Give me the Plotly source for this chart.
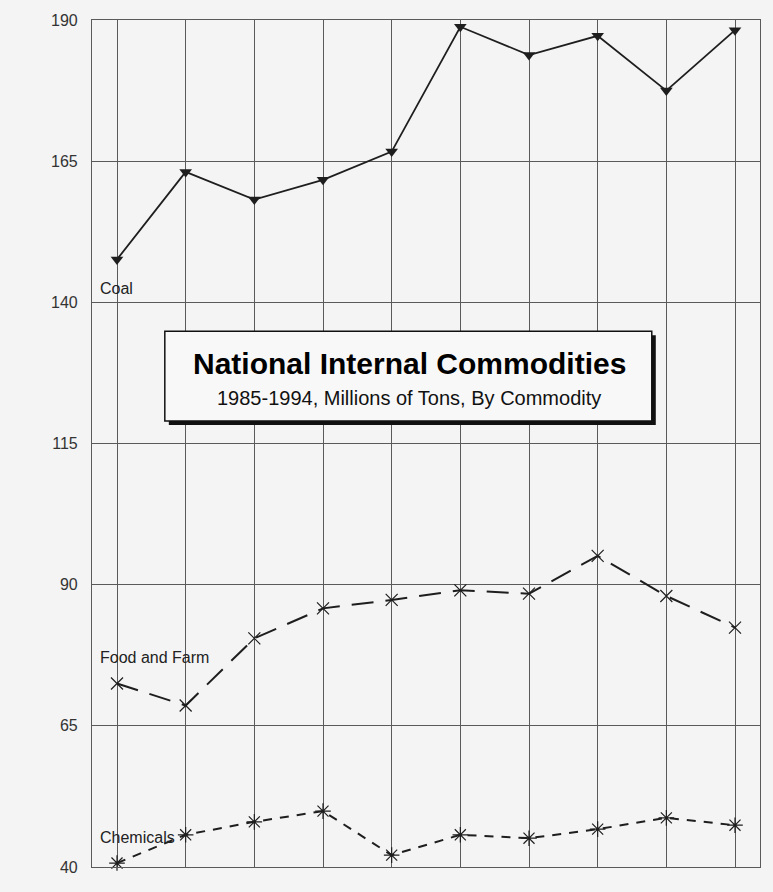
import plotly.graph_objects as go

# ── Data (millions of tons) ────────────────────────────────────────────────
years = [1985, 1986, 1987, 1988, 1989, 1990, 1991, 1992, 1993, 1994]
coal = [147.6, 163.1, 158.2, 161.7, 166.7, 188.8, 183.8, 187.2, 177.5, 188.2]
food_farm = [72.5, 68.6, 80.5, 85.8, 87.3, 89.0, 88.4, 95.1, 88.0, 82.4]
chemicals = [40.7, 45.7, 48.0, 49.9, 42.1, 45.7, 45.1, 46.7, 48.7, 47.4]
y_ticks = [40, 65, 90, 115, 140, 165, 190]

FONT = "Liberation Sans, Arial, sans-serif"
INK = "#1e1e1e"
GRID = "#5a5a5a"
BG = "#f4f4f4"

fig = go.Figure()

fig.add_trace(go.Scatter(
    x=years, y=coal, mode="lines+markers", name="Coal",
    line=dict(color=INK, width=1.8),
    marker=dict(symbol="triangle-down", size=11, color=INK),
    cliponaxis=False,
))
fig.add_trace(go.Scatter(
    x=years, y=food_farm, mode="lines+markers", name="Food and Farm",
    line=dict(color=INK, width=2, dash="22px,12px"),
    marker=dict(symbol="x-thin-open", size=12, line=dict(color=INK, width=1.2)),
    cliponaxis=False,
))
fig.add_trace(go.Scatter(
    x=years, y=chemicals, mode="lines+markers", name="Chemicals",
    line=dict(color=INK, width=2, dash="9px,8px"),
    marker=dict(symbol="asterisk-open", size=13, line=dict(color=INK, width=1.2)),
    cliponaxis=False,
))

# series labels
for text, y in [("Coal", 142.5), ("Food and Farm", 77.1), ("Chemicals", 45.3)]:
    fig.add_annotation(
        x=years[0] - 0.27, y=y, xref="x", yref="y", text=text,
        showarrow=False, xanchor="left", yanchor="middle",
        font=dict(family=FONT, size=16, color="#222222"),
    )

# title box with drop shadow
bx0, bx1, by0, by1 = 0.109, 0.838, 0.5265, 0.6325
fig.add_shape(type="rect", xref="paper", yref="paper",
              x0=bx0 + 0.006, x1=bx1 + 0.006, y0=by0 - 0.0047, y1=by1 - 0.0047,
              fillcolor="#111111", line=dict(width=0), layer="above")
fig.add_shape(type="rect", xref="paper", yref="paper",
              x0=bx0, x1=bx1, y0=by0, y1=by1,
              fillcolor="#f8f8f8", line=dict(color="#111111", width=1.5), layer="above")
fig.add_annotation(
    x=0.4746, y=0.5948, xref="paper", yref="paper", showarrow=False,
    text="<b>National Internal Commodities</b>",
    font=dict(family=FONT, size=30, color="#000000"),
)
fig.add_annotation(
    x=0.4746, y=0.5536, xref="paper", yref="paper", showarrow=False,
    text="1985-1994, Millions of Tons, By Commodity",
    font=dict(family=FONT, size=20, color="#111111"),
)

fig.update_layout(
    width=773, height=892,
    margin=dict(l=92, r=13, t=18, b=25),
    paper_bgcolor=BG, plot_bgcolor=BG,
    showlegend=False,
    font=dict(family=FONT, color="#333333"),
    xaxis=dict(
        range=[years[0] - 0.364, years[-1] + 0.364],
        tickvals=years, showticklabels=False, ticks="",
        showgrid=True, gridcolor=GRID, gridwidth=1,
        showline=True, linecolor=GRID, linewidth=1.2, mirror=True,
        zeroline=False,
    ),
    yaxis=dict(
        range=[40, 190], tickvals=y_ticks, ticks="",
        ticklabelstandoff=10,
        tickfont=dict(family=FONT, size=16, color="#333333"),
        showgrid=True, gridcolor=GRID, gridwidth=1,
        showline=True, linecolor=GRID, linewidth=1.2, mirror=True,
        zeroline=False,
    ),
)

fig.write_html(
    "out.html",
    config={"displayModeBar": False},
    post_script="document.body.style.margin='0';document.body.style.background='%s';" % BG,
)
